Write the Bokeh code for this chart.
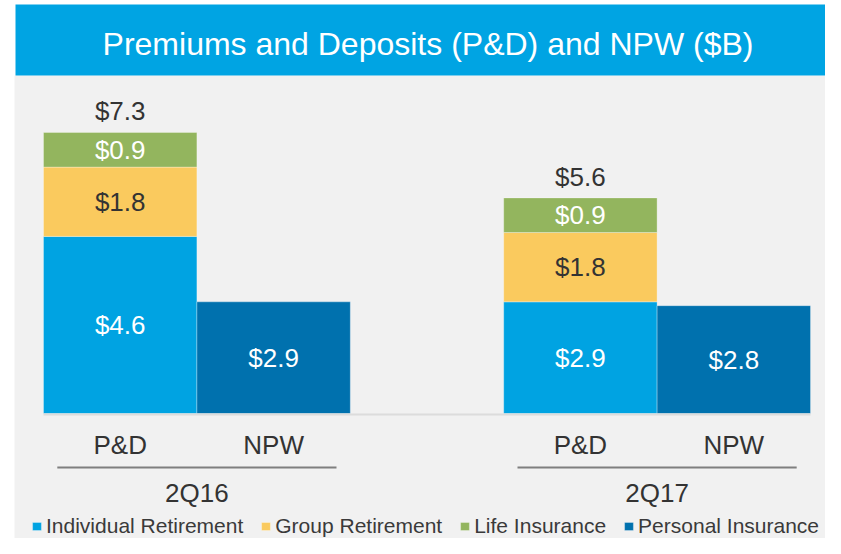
from bokeh.plotting import figure
from bokeh.models import ColumnDataSource, Range1d, Legend, LegendItem
from bokeh.core.properties import value
from bokeh.embed import file_html
from bokeh.resources import INLINE

# ---------------- data ----------------
periods = ["2Q16", "2Q17"]
measures = ["P&D", "NPW"]
individual_retirement = [4.6, 2.9]
group_retirement = [1.8, 1.8]
life_insurance = [0.9, 0.9]
personal_insurance = [2.9, 2.8]
pd_totals = [7.3, 5.6]
series_names = ["Individual Retirement", "Group Retirement", "Life Insurance", "Personal Insurance"]

# ---------------- style ----------------
FONT_NAME = "Liberation Sans"
FONT = value(FONT_NAME)
C_IR = "#00A3E2"
C_GR = "#FACA5E"
C_LI = "#93B55E"
C_PI = "#0071AE"
C_BG = "#F1F1F1"
C_TXT = "#333333"

W, H = 825, 538
# layout helpers: canvas pixel -> data coordinates (bar width = 1 unit, 38.5 px per $B)
PX_UNIT_X = 153.4
PX_UNIT_Y = 38.5
def X(px):
    return (px - 43) / PX_UNIT_X
def Y(py):
    return (413 - py) / PX_UNIT_Y

p = figure(width=W, height=H, output_backend="svg", toolbar_location=None,
           x_range=Range1d(X(0), X(W)), y_range=Range1d(Y(H), Y(0)),
           x_axis_location=None, y_axis_location=None, min_border=0,
           outline_line_color=None, background_fill_color="white",
           border_fill_color="white")
p.grid.visible = False

# panels
p.quad(left=X(14), right=X(W + 5), bottom=Y(H + 5), top=Y(75), fill_color=C_BG, line_color=None)
p.quad(left=X(15), right=X(W + 5), bottom=Y(75), top=Y(4), fill_color="#00A4E3", line_color=None)
p.text(x=[X(427.5)], y=[Y(43.5)], text=["Premiums and Deposits (P&D) and NPW ($B)"],
       text_font=FONT, text_font_size="32px", text_color="white",
       text_align="center", text_baseline="middle")

# bar positions: group g, measure m -> center
GAP = 1.0
pd_x = [g * (len(measures) + GAP) + 0.5 for g in range(len(periods))]
npw_x = [g * (len(measures) + GAP) + 1.5 for g in range(len(periods))]
group_x = [g * (len(measures) + GAP) + len(measures) / 2 for g in range(len(periods))]

pd_src = ColumnDataSource(dict(x=pd_x, ir=individual_retirement, gr=group_retirement,
                               li=life_insurance, total=pd_totals))
stack = p.vbar_stack(["ir", "gr", "li"], x="x", width=1.0, source=pd_src,
                     color=[C_IR, C_GR, C_LI], line_color="white", line_alpha=0.3,
                     line_width=1)
npw_src = ColumnDataSource(dict(x=npw_x, top=personal_insurance))
npw = p.vbar(x="x", top="top", bottom=0, width=1.0, source=npw_src,
             fill_color=C_PI, line_color="white", line_alpha=0.3, line_width=1)

# baseline
p.segment(x0=[0], x1=[len(periods) * len(measures) + (len(periods) - 1) * GAP],
          y0=[Y(414)], y1=[Y(414)], line_color="#DCDCDC", line_width=2)

# segment labels
lx, ly, lt, lc = [], [], [], []
for i in range(len(periods)):
    b = 0.0
    for v, col in ((individual_retirement[i], "white"), (group_retirement[i], C_TXT),
                   (life_insurance[i], "white")):
        lx.append(pd_x[i]); ly.append(b + v / 2); lt.append(f"${v:.1f}"); lc.append(col)
        b += v
    lx.append(npw_x[i]); ly.append(personal_insurance[i] / 2)
    lt.append(f"${personal_insurance[i]:.1f}"); lc.append("white")
p.text(x=lx, y=ly, text=lt, text_color=lc, text_font=FONT, text_font_size="26px",
       text_align="center", text_baseline="middle")

# totals
p.text(x=pd_x, y=pd_totals, text=[f"${t:.1f}" for t in pd_totals], text_color=C_TXT,
       text_font=FONT, text_font_size="26px", text_align="center",
       text_baseline="alphabetic", y_offset=-21)

# category labels
cat_x = [x for pair in zip(pd_x, npw_x) for x in pair]
cat_t = [m for _ in periods for m in measures]
p.text(x=cat_x, y=[Y(444.5)] * len(cat_x), text=cat_t, text_color=C_TXT, text_font=FONT,
       text_font_size="26px", text_align="center", text_baseline="middle")
p.segment(x0=[g - 0.91 for g in group_x], x1=[g + 0.91 for g in group_x],
          y0=[Y(467)] * len(group_x), y1=[Y(467)] * len(group_x),
          line_color="#7F7F7F", line_width=2)
p.text(x=group_x, y=[Y(492)] * len(group_x), text=periods, text_color=C_TXT, text_font=FONT,
       text_font_size="26px", text_align="center", text_baseline="middle")

# legend
items = [LegendItem(label=series_names[k], renderers=[stack[k]]) for k in range(3)]
items.append(LegendItem(label=series_names[3], renderers=[npw]))
legend = Legend(items=items, orientation="horizontal", location=(31, 0),
                glyph_width=11, glyph_height=10, label_standoff=4, spacing=17,
                label_text_font=FONT_NAME, label_text_font_size="21px", label_text_color="#3A3A3A",
                label_height=22, padding=0, margin=0, border_line_color=None,
                background_fill_alpha=0)
p.add_layout(legend)

open("out.html", "w").write(file_html(p, INLINE))
